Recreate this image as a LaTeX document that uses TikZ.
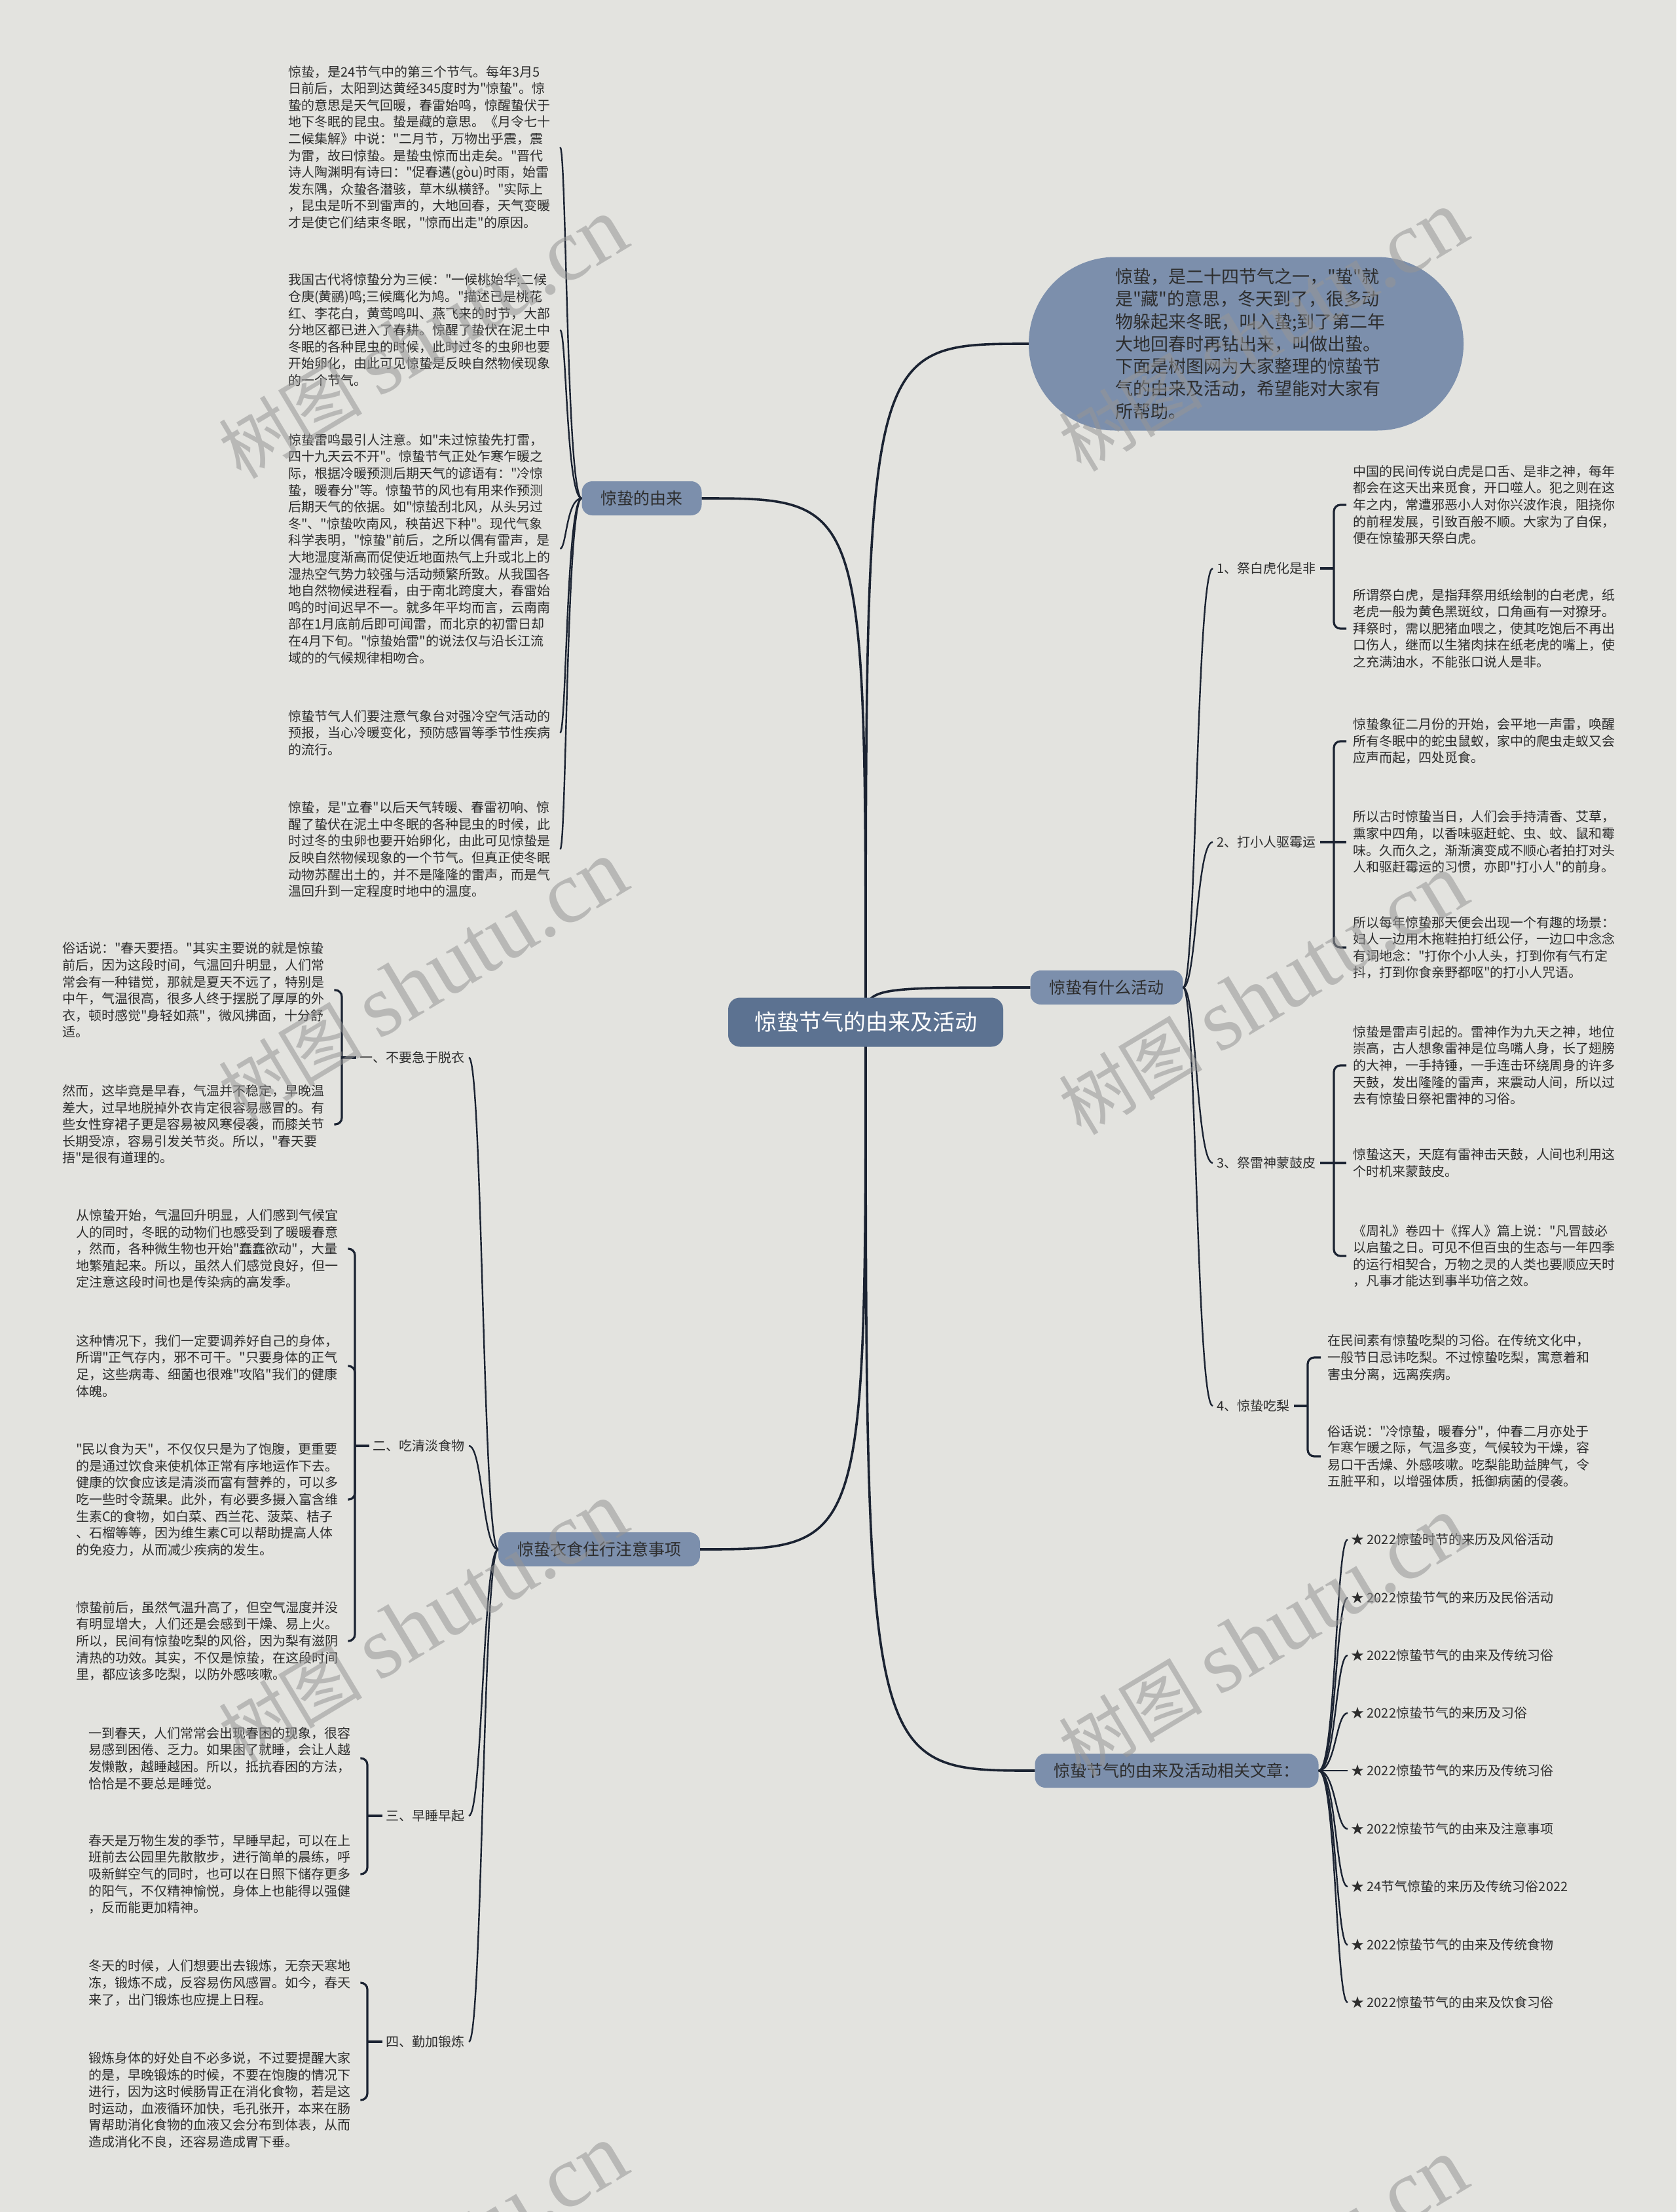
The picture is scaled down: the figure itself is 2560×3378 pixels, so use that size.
\documentclass[tikz,border=0pt]{standalone}
\usepackage{fontspec}
\newfontfamily\cnfont{Noto Sans CJK SC}
\newfontfamily\wmfont{Liberation Serif}

\definecolor{bgcol}{RGB}{227,227,223}
\definecolor{rootcol}{RGB}{92,114,145}
\definecolor{catcol}{RGB}{124,143,172}
\definecolor{linkcol}{RGB}{27,35,50}
\definecolor{txtcol}{RGB}{45,45,45}
\definecolor{wmcol}{RGB}{150,150,150}

\tikzset{
  trunkline/.style={linkcol, line width=3.6pt},
  twigline/.style={linkcol, line width=2.4pt},
  braceline/.style={linkcol, line width=3.2pt, rounded corners=10pt},
  rootbox/.style={fill=rootcol, text=white, rounded corners=18pt, minimum height=75pt, inner xsep=40pt, font=\cnfont\fontsize{34}{40}\selectfont},
  catbox/.style={fill=catcol, text=txtcol, rounded corners=16pt, minimum height=52pt, inner xsep=29pt, font=\cnfont\fontsize{25}{30}\selectfont},
  sublabel/.style={text=txtcol, inner sep=6pt, font=\cnfont\fontsize{20}{24}\selectfont},
  leaftext/.style={text=txtcol, anchor=west, inner xsep=10pt, inner ysep=2pt, text width=405pt, align=left, font=\cnfont\fontsize{20}{25.6}\selectfont},
  listitem/.style={text=txtcol, anchor=west, inner sep=5pt, font=\cnfont\fontsize{20}{24}\selectfont},
  wmtext/.style={text=wmcol, text opacity=0.55, rotate=31, inner sep=0pt, font=\cnfont}
}

\begin{document}
\begin{tikzpicture}[x=1pt, y=-1pt]
  \useasboundingbox (0,0) rectangle (2560,3378);
  \fill[bgcol] (0,0) rectangle (2560,3378);

  % 中心主题与一级分支
  \coordinate (ztc) at (1322,1561);
  \node[catbox] (yl) at (980,761) {惊蛰的由来};
  \node[catbox] (yx) at (915,2366) {惊蛰衣食住行注意事项};
  \node[catbox] (hd) at (1690,1508) {惊蛰有什么活动};
  \node[catbox] (wz) at (1797,2704) {惊蛰节气的由来及活动相关文章：};
  \node[fill=catcol, text=txtcol, rounded corners=132pt, minimum width=664pt, minimum height=265pt,
        text width=400pt, align=left, font=\cnfont\fontsize{27}{34.3}\selectfont] (gy) at (1903,525)
    {惊蛰，是二十四节气之一，"蛰"就\\是"藏"的意思，冬天到了，很多动\\物躲起来冬眠，叫入蛰;到了第二年\\大地回春时再钻出来，叫做出蛰。\\下面是树图网为大家整理的惊蛰节\\气的由来及活动，希望能对大家有\\所帮助。};

  % 分支曲线
  \draw[trunkline] (ztc) .. controls (ztc |- gy.west) and (ztc |- gy.west) .. (gy.west);
  \draw[trunkline] (ztc) .. controls (ztc |- hd.west) and (ztc |- hd.west) .. (hd.west);
  \draw[trunkline] (ztc) .. controls (ztc |- wz.west) and (ztc |- wz.west) .. (wz.west);
  \draw[trunkline] (ztc) .. controls (ztc |- yl.east) and (ztc |- yl.east) .. (yl.east);
  \draw[trunkline] (ztc) .. controls (ztc |- yx.east) and (ztc |- yx.east) .. (yx.east);
  \node[rootbox] (zt) at (ztc) {惊蛰节气的由来及活动};

  % 惊蛰的由来
  \coordinate (k1) at (865,0);
  \node[leaftext] (l1) at (430,225) {惊蛰，是24节气中的第三个节气。每年3月5\\日前后，太阳到达黄经345度时为"惊蛰"。惊\\蛰的意思是天气回暖，春雷始鸣，惊醒蛰伏于\\地下冬眠的昆虫。蛰是藏的意思。《月令七十\\二候集解》中说："二月节，万物出乎震，震\\为雷，故曰惊蛰。是蛰虫惊而出走矣。"晋代\\诗人陶渊明有诗曰："促春遘(gòu)时雨，始雷\\发东隅，众蛰各潜骇，草木纵横舒。"实际上\\，昆虫是听不到雷声的，大地回春，天气变暖\\才是使它们结束冬眠，"惊而出走"的原因。};
  \node[leaftext] (l2) at (430,504) {我国古代将惊蛰分为三候："一候桃始华;二候\\仓庚(黄鹂)鸣;三候鹰化为鸠。"描述已是桃花\\红、李花白，黄莺鸣叫、燕飞来的时节，大部\\分地区都已进入了春耕。惊醒了蛰伏在泥土中\\冬眠的各种昆虫的时候，此时过冬的虫卵也要\\开始卵化，由此可见惊蛰是反映自然物候现象\\的一个节气。};
  \node[leaftext] (l3) at (430,838) {惊蛰雷鸣最引人注意。如"未过惊蛰先打雷，\\四十九天云不开"。惊蛰节气正处乍寒乍暖之\\际，根据冷暖预测后期天气的谚语有："冷惊\\蛰，暖春分"等。惊蛰节的风也有用来作预测\\后期天气的依据。如"惊蛰刮北风，从头另过\\冬"、"惊蛰吹南风，秧苗迟下种"。现代气象\\科学表明，"惊蛰"前后，之所以偶有雷声，是\\大地湿度渐高而促使近地面热气上升或北上的\\湿热空气势力较强与活动频繁所致。从我国各\\地自然物候进程看，由于南北跨度大，春雷始\\鸣的时间迟早不一。就多年平均而言，云南南\\部在1月底前后即可闻雷，而北京的初雷日却\\在4月下旬。"惊蛰始雷"的说法仅与沿长江流\\域的的气候规律相吻合。};
  \node[leaftext] (l4) at (430,1119) {惊蛰节气人们要注意气象台对强冷空气活动的\\预报，当心冷暖变化，预防感冒等季节性疾病\\的流行。};
  \node[leaftext] (l5) at (430,1297) {惊蛰，是"立春"以后天气转暖、春雷初响、惊\\醒了蛰伏在泥土中冬眠的各种昆虫的时候，此\\时过冬的虫卵也要开始卵化，由此可见惊蛰是\\反映自然物候现象的一个节气。但真正使冬眠\\动物苏醒出土的，并不是隆隆的雷声，而是气\\温回升到一定程度时地中的温度。};
  \draw[twigline] (yl.west) .. controls (yl.west -| k1) and (l1.east -| k1) .. (l1.east);
  \draw[twigline] (yl.west) .. controls (yl.west -| k1) and (l2.east -| k1) .. (l2.east);
  \draw[twigline] (yl.west) .. controls (yl.west -| k1) and (l3.east -| k1) .. (l3.east);
  \draw[twigline] (yl.west) .. controls (yl.west -| k1) and (l4.east -| k1) .. (l4.east);
  \draw[twigline] (yl.west) .. controls (yl.west -| k1) and (l5.east -| k1) .. (l5.east);

  % 惊蛰有什么活动
  \coordinate (k2) at (1827,0);
  \coordinate (k5) at (2037,0);
  \coordinate (k6) at (1997,0);
  \node[sublabel, anchor=west] (s1) at (1852,868) {1、祭白虎化是非};
  \node[sublabel, anchor=west] (s2) at (1852,1286) {2、打小人驱霉运};
  \node[sublabel, anchor=west] (s3) at (1852,1776) {3、祭雷神蒙鼓皮};
  \node[sublabel, anchor=west] (s4) at (1852,2147) {4、惊蛰吃梨};
  \draw[twigline] (hd.east) .. controls (hd.east -| k2) and (s1.west -| k2) .. (s1.west);
  \draw[twigline] (hd.east) .. controls (hd.east -| k2) and (s2.west -| k2) .. (s2.west);
  \draw[twigline] (hd.east) .. controls (hd.east -| k2) and (s3.west -| k2) .. (s3.west);
  \draw[twigline] (hd.east) .. controls (hd.east -| k2) and (s4.west -| k2) .. (s4.west);

  \node[leaftext] (r1a) at (2056,771) {中国的民间传说白虎是口舌、是非之神，每年\\都会在这天出来觅食，开口噬人。犯之则在这\\年之内，常遭邪恶小人对你兴波作浪，阻挠你\\的前程发展，引致百般不顺。大家为了自保，\\便在惊蛰那天祭白虎。};
  \node[leaftext] (r1b) at (2056,960) {所谓祭白虎，是指拜祭用纸绘制的白老虎，纸\\老虎一般为黄色黑斑纹，口角画有一对獠牙。\\拜祭时，需以肥猪血喂之，使其吃饱后不再出\\口伤人，继而以生猪肉抹在纸老虎的嘴上，使\\之充满油水，不能张口说人是非。};
  \draw[braceline] (s1.east) -- (s1.east -| k5);
  \draw[braceline] (s1.east -| k5) |- (r1a.west);
  \draw[braceline] (s1.east -| k5) |- (r1b.west);

  \node[leaftext] (r2a) at (2056,1132) {惊蛰象征二月份的开始，会平地一声雷，唤醒\\所有冬眠中的蛇虫鼠蚁，家中的爬虫走蚁又会\\应声而起，四处觅食。};
  \node[leaftext] (r2b) at (2056,1286) {所以古时惊蛰当日，人们会手持清香、艾草，\\熏家中四角，以香味驱赶蛇、虫、蚊、鼠和霉\\味。久而久之，渐渐演变成不顺心者拍打对头\\人和驱赶霉运的习惯，亦即"打小人"的前身。};
  \node[leaftext] (r2c) at (2056,1447) {所以每年惊蛰那天便会出现一个有趣的场景：\\妇人一边用木拖鞋拍打纸公仔，一边口中念念\\有词地念："打你个小人头，打到你有气冇定\\抖，打到你食亲野都呕"的打小人咒语。};
  \draw[braceline] (s2.east) -- (s2.east -| k5);
  \draw[braceline] (s2.east -| k5) |- (r2a.west);
  \draw[braceline] (s2.east -| k5) -- (r2b.west);
  \draw[braceline] (s2.east -| k5) |- (r2c.west);

  \node[leaftext] (r3a) at (2056,1627) {惊蛰是雷声引起的。雷神作为九天之神，地位\\崇高，古人想象雷神是位鸟嘴人身，长了翅膀\\的大神，一手持锤，一手连击环绕周身的许多\\天鼓，发出隆隆的雷声，来震动人间，所以过\\去有惊蛰日祭祀雷神的习俗。};
  \node[leaftext] (r3b) at (2056,1776) {惊蛰这天，天庭有雷神击天鼓，人间也利用这\\个时机来蒙鼓皮。};
  \node[leaftext] (r3c) at (2056,1918) {《周礼》卷四十《挥人》篇上说："凡冒鼓必\\以启蛰之日。可见不但百虫的生态与一年四季\\的运行相契合，万物之灵的人类也要顺应天时\\，凡事才能达到事半功倍之效。};
  \draw[braceline] (s3.east) -- (s3.east -| k5);
  \draw[braceline] (s3.east -| k5) |- (r3a.west);
  \draw[braceline] (s3.east -| k5) -- (r3b.west);
  \draw[braceline] (s3.east -| k5) |- (r3c.west);

  \node[leaftext] (r4a) at (2017,2073) {在民间素有惊蛰吃梨的习俗。在传统文化中，\\一般节日忌讳吃梨。不过惊蛰吃梨，寓意着和\\害虫分离，远离疾病。};
  \node[leaftext] (r4b) at (2017,2224) {俗话说："冷惊蛰，暖春分"，仲春二月亦处于\\乍寒乍暖之际，气温多变，气候较为干燥，容\\易口干舌燥、外感咳嗽。吃梨能助益脾气，令\\五脏平和，以增强体质，抵御病菌的侵袭。};
  \draw[braceline] (s4.east) -- (s4.east -| k6);
  \draw[braceline] (s4.east -| k6) |- (r4a.west);
  \draw[braceline] (s4.east -| k6) |- (r4b.west);

  % 相关文章
  \coordinate (k4) at (2040,0);
  \node[listitem] (w1) at (2058,2351) {★ 2022惊蛰时节的来历及风俗活动};
  \node[listitem] (w2) at (2058,2440) {★ 2022惊蛰节气的来历及民俗活动};
  \node[listitem] (w3) at (2058,2528) {★ 2022惊蛰节气的由来及传统习俗};
  \node[listitem] (w4) at (2058,2616) {★ 2022惊蛰节气的来历及习俗};
  \node[listitem] (w5) at (2058,2704) {★ 2022惊蛰节气的来历及传统习俗};
  \node[listitem] (w6) at (2058,2793) {★ 2022惊蛰节气的由来及注意事项};
  \node[listitem] (w7) at (2058,2881) {★ 24节气惊蛰的来历及传统习俗2022};
  \node[listitem] (w8) at (2058,2970) {★ 2022惊蛰节气的由来及传统食物};
  \node[listitem] (w9) at (2058,3058) {★ 2022惊蛰节气的由来及饮食习俗};
  \draw[twigline] (wz.east) .. controls (wz.east -| k4) and (w1.west -| k4) .. (w1.west);
  \draw[twigline] (wz.east) .. controls (wz.east -| k4) and (w2.west -| k4) .. (w2.west);
  \draw[twigline] (wz.east) .. controls (wz.east -| k4) and (w3.west -| k4) .. (w3.west);
  \draw[twigline] (wz.east) .. controls (wz.east -| k4) and (w4.west -| k4) .. (w4.west);
  \draw[twigline] (wz.east) -- (w5.west);
  \draw[twigline] (wz.east) .. controls (wz.east -| k4) and (w6.west -| k4) .. (w6.west);
  \draw[twigline] (wz.east) .. controls (wz.east -| k4) and (w7.west -| k4) .. (w7.west);
  \draw[twigline] (wz.east) .. controls (wz.east -| k4) and (w8.west -| k4) .. (w8.west);
  \draw[twigline] (wz.east) .. controls (wz.east -| k4) and (w9.west -| k4) .. (w9.west);

  % 惊蛰衣食住行注意事项
  \coordinate (k3) at (737,0);
  \coordinate (k7) at (522,0);
  \coordinate (k8) at (542,0);
  \coordinate (k9) at (561,0);
  \node[sublabel, anchor=east] (t1) at (716,1615) {一、不要急于脱衣};
  \node[sublabel, anchor=east] (t2) at (716,2208) {二、吃清淡食物};
  \node[sublabel, anchor=east] (t3) at (716,2773) {三、早睡早起};
  \node[sublabel, anchor=east] (t4) at (716,3118) {四、勤加锻炼};
  \draw[twigline] (yx.west) .. controls (yx.west -| k3) and (t1.east -| k3) .. (t1.east);
  \draw[twigline] (yx.west) .. controls (yx.west -| k3) and (t2.east -| k3) .. (t2.east);
  \draw[twigline] (yx.west) .. controls (yx.west -| k3) and (t3.east -| k3) .. (t3.east);
  \draw[twigline] (yx.west) .. controls (yx.west -| k3) and (t4.east -| k3) .. (t4.east);

  \node[leaftext] (b1a) at (85,1512) {俗话说："春天要捂。"其实主要说的就是惊蛰\\前后，因为这段时间，气温回升明显，人们常\\常会有一种错觉，那就是夏天不远了，特别是\\中午，气温很高，很多人终于摆脱了厚厚的外\\衣，顿时感觉"身轻如燕"，微风拂面，十分舒\\适。};
  \node[leaftext] (b1b) at (85,1717) {然而，这毕竟是早春，气温并不稳定，早晚温\\差大，过早地脱掉外衣肯定很容易感冒的。有\\些女性穿裙子更是容易被风寒侵袭，而膝关节\\长期受凉，容易引发关节炎。所以，"春天要\\捂"是很有道理的。};
  \draw[braceline] (t1.west) -- (t1.west -| k7);
  \draw[braceline] (t1.west -| k7) |- (b1a.east);
  \draw[braceline] (t1.west -| k7) |- (b1b.east);

  \node[leaftext] (b2a) at (106,1907) {从惊蛰开始，气温回升明显，人们感到气候宜\\人的同时，冬眠的动物们也感受到了暖暖春意\\，然而，各种微生物也开始"蠢蠢欲动"，大量\\地繁殖起来。所以，虽然人们感觉良好，但一\\定注意这段时间也是传染病的高发季。};
  \node[leaftext] (b2b) at (106,2086) {这种情况下，我们一定要调养好自己的身体，\\所谓"正气存内，邪不可干。"只要身体的正气\\足，这些病毒、细菌也很难"攻陷"我们的健康\\体魄。};
  \node[leaftext] (b2c) at (106,2290) {"民以食为天"，不仅仅只是为了饱腹，更重要\\的是通过饮食来使机体正常有序地运作下去。\\健康的饮食应该是清淡而富有营养的，可以多\\吃一些时令蔬果。此外，有必要多摄入富含维\\生素C的食物，如白菜、西兰花、菠菜、桔子\\、石榴等等，因为维生素C可以帮助提高人体\\的免疫力，从而减少疾病的发生。};
  \node[leaftext] (b2d) at (106,2506) {惊蛰前后，虽然气温升高了，但空气湿度并没\\有明显增大，人们还是会感到干燥、易上火。\\所以，民间有惊蛰吃梨的风俗，因为梨有滋阴\\清热的功效。其实，不仅是惊蛰，在这段时间\\里，都应该多吃梨，以防外感咳嗽。};
  \draw[braceline] (t2.west) -- (t2.west -| k8);
  \draw[braceline] (t2.west -| k8) |- (b2a.east);
  \draw[braceline] (t2.west -| k8) |- (b2b.east);
  \draw[braceline] (t2.west -| k8) |- (b2c.east);
  \draw[braceline] (t2.west -| k8) |- (b2d.east);

  \node[leaftext] (b3a) at (125,2685) {一到春天，人们常常会出现春困的现象，很容\\易感到困倦、乏力。如果困了就睡，会让人越\\发懒散，越睡越困。所以，抵抗春困的方法，\\恰恰是不要总是睡觉。};
  \node[leaftext] (b3b) at (125,2862) {春天是万物生发的季节，早睡早起，可以在上\\班前去公园里先散散步，进行简单的晨练，呼\\吸新鲜空气的同时，也可以在日照下储存更多\\的阳气，不仅精神愉悦，身体上也能得以强健\\，反而能更加精神。};
  \draw[braceline] (t3.west) -- (t3.west -| k9);
  \draw[braceline] (t3.west -| k9) |- (b3a.east);
  \draw[braceline] (t3.west -| k9) |- (b3b.east);

  \node[leaftext] (b4a) at (125,3028) {冬天的时候，人们想要出去锻炼，无奈天寒地\\冻，锻炼不成，反容易伤风感冒。如今，春天\\来了，出门锻炼也应提上日程。};
  \node[leaftext] (b4b) at (125,3207) {锻炼身体的好处自不必多说，不过要提醒大家\\的是，早晚锻炼的时候，不要在饱腹的情况下\\进行，因为这时候肠胃正在消化食物，若是这\\时运动，血液循环加快，毛孔张开，本来在肠\\胃帮助消化食物的血液又会分布到体表，从而\\造成消化不良，还容易造成胃下垂。};
  \draw[braceline] (t4.west) -- (t4.west -| k9);
  \draw[braceline] (t4.west -| k9) |- (b4a.east);
  \draw[braceline] (t4.west -| k9) |- (b4b.east);

  % 水印
  \node[wmtext] (wm1) at (646,517) {\fontsize{110}{110}\selectfont 树图 {\wmfont\fontsize{135}{135}\selectfont shutu.cn}};
  \node[wmtext] (wm2) at (646,1498) {\fontsize{110}{110}\selectfont 树图 {\wmfont\fontsize{135}{135}\selectfont shutu.cn}};
  \node[wmtext] (wm3) at (646,2478) {\fontsize{110}{110}\selectfont 树图 {\wmfont\fontsize{135}{135}\selectfont shutu.cn}};
  \node[wmtext] (wm4) at (646,3459) {\fontsize{110}{110}\selectfont 树图 {\wmfont\fontsize{135}{135}\selectfont shutu.cn}};
  \node[wmtext] (wm5) at (1929,506) {\fontsize{110}{110}\selectfont 树图 {\wmfont\fontsize{135}{135}\selectfont shutu.cn}};
  \node[wmtext] (wm6) at (1929,1519) {\fontsize{110}{110}\selectfont 树图 {\wmfont\fontsize{135}{135}\selectfont shutu.cn}};
  \node[wmtext] (wm7) at (1929,2500) {\fontsize{110}{110}\selectfont 树图 {\wmfont\fontsize{135}{135}\selectfont shutu.cn}};
  \node[wmtext] (wm8) at (1929,3480) {\fontsize{110}{110}\selectfont 树图 {\wmfont\fontsize{135}{135}\selectfont shutu.cn}};
\end{tikzpicture}
\end{document}
